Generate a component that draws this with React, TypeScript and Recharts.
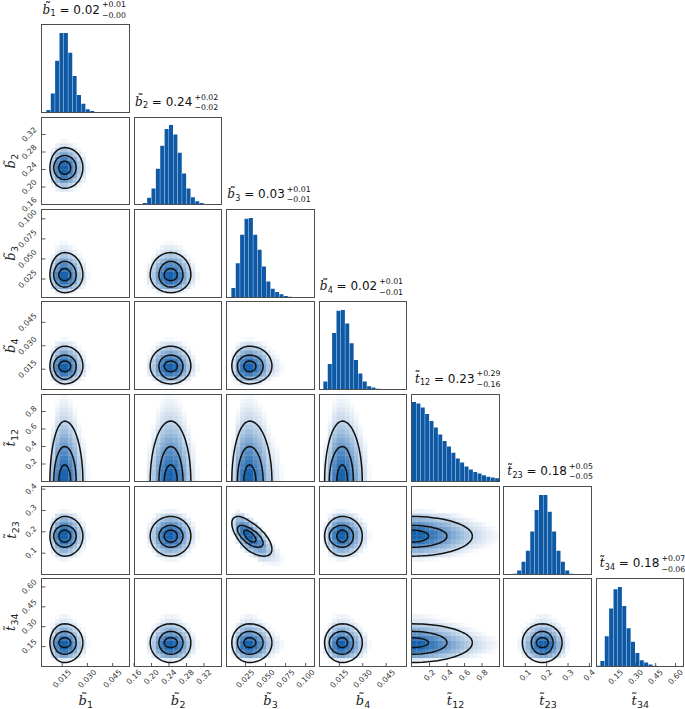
import React from 'react';
import { ScatterChart, Scatter, XAxis, YAxis, ComposedChart, Bar } from 'recharts';

// panel geometry (page pixels)
const W = 87.5;
const H = 87.5;
const M = 45;
const colX = [42, 134.4, 226.8, 319.2, 411.6, 504, 596.4];
const rowY = [25, 117.3, 209.6, 301.9, 394.2, 486.5, 578.8];

// parameters
const varSymbols = ['b', 'b', 'b', 'b', 't', 't', 't'];
const varSubs = ['1', '2', '3', '4', '12', '23', '34'];
const varDomains: [number, number][] = [
  [0.003, 0.055],
  [0.16, 0.36],
  [0.002, 0.111],
  [0.002, 0.058],
  [0, 1.0],
  [0, 0.41],
  [0, 0.66],
];
const varTicks = [
  [0.015, 0.03, 0.045],
  [0.16, 0.2, 0.24, 0.28, 0.32],
  [0.025, 0.05, 0.075, 0.1],
  [0.015, 0.03, 0.045],
  [0.2, 0.4, 0.6, 0.8],
  [0.1, 0.2, 0.3, 0.4],
  [0.15, 0.3, 0.45, 0.6],
];
const varTickLabels = [
  ['0.015', '0.030', '0.045'],
  ['0.16', '0.20', '0.24', '0.28', '0.32'],
  ['0.025', '0.050', '0.075', '0.100'],
  ['0.015', '0.030', '0.045'],
  ['0.2', '0.4', '0.6', '0.8'],
  ['0.1', '0.2', '0.3', '0.4'],
  ['0.15', '0.30', '0.45', '0.60'],
];

// marginal histograms, 20 bins over each range (peak = 100)
const histB1 = [0, 3, 24, 65, 100, 100, 75, 46, 22, 11, 4, 2, 0.5, 0, 0, 0, 0, 0, 0, 0];
const histB2 = [0, 0, 2, 8.5, 20, 45, 74, 95, 100, 88, 65, 39, 20, 9, 4, 2, 0, 0, 0, 0];
const histB3 = [0, 12, 43, 79, 99, 100, 79, 60, 39, 20, 11, 7, 4, 2, 1, 0, 0, 0, 0, 0];
const histB4 = [0, 10, 32, 71, 99, 100, 83, 58, 37, 20, 10, 4, 2.5, 1, 0.5, 0, 0, 0, 0, 0];
const histT12 = [100, 98, 93, 85, 76, 68, 59, 51, 44, 36, 29, 24, 19, 15, 12, 10, 8, 6, 5, 4];
const histT23 = [0, 0, 1, 5, 16, 30, 54, 81, 100, 100, 79, 54, 30, 16, 5, 1, 0, 0, 0, 0];
const histT34 = [1, 7, 38, 73, 97, 100, 76, 48, 31, 17, 8, 5, 2.5, 1, 0.5, 0, 0, 0, 0, 0];
const histograms = [histB1, histB2, histB3, histB4, histT12, histT23, histT34];

// titles
const medians = ['0.02', '0.24', '0.03', '0.02', '0.23', '0.18', '0.18'];
const errPlus = ['0.01', '0.02', '0.01', '0.01', '0.29', '0.05', '0.07'];
const errMinus = ['0.00', '0.02', '0.01', '0.01', '0.16', '0.05', '0.06'];

// contour centres and extents (inner, middle, outer) below / above the centre
const contourCenter = [0.0165, 0.244, 0.03, 0.017, 0, 0.18, 0.18];
const contourLow = [
  [0.0035, 0.0065, 0.0088],
  [0.015, 0.027, 0.047],
  [0.007, 0.015, 0.022],
  [0.0036, 0.0084, 0.0114],
  [0.19, 0.4, 0.69],
  [0.028, 0.052, 0.094],
  [0.037, 0.088, 0.15],
];
const contourHigh = [
  [0.0035, 0.0068, 0.0108],
  [0.015, 0.028, 0.046],
  [0.008, 0.017, 0.028],
  [0.0032, 0.007, 0.0127],
  [0.19, 0.4, 0.69],
  [0.028, 0.05, 0.092],
  [0.037, 0.085, 0.142],
];
const correlatedPairs = [{ x: 2, y: 5, rho: -0.65, slope: -0.74, ic: 4.5, jc: 8.3 }];

const HIST_FILL = '#0d59a6';
const DARK = [22, 96, 172];

function blend(v: number) {
  const t = Math.max(0, (Math.pow(v, 0.45) - 0.2) / 0.8);
  const c = DARK.map((d) => Math.round(255 + (d - 255) * t));
  return { t, fill: `rgb(${c[0]},${c[1]},${c[2]})` };
}

function binCenters(k: number) {
  const [a, b] = varDomains[k];
  const w = (b - a) / 20;
  return histograms[k].map((_, i) => a + (i + 0.5) * w);
}

function sample(h: number[], f: number) {
  if (f < 0 || f > h.length - 1) return 0;
  const i = Math.floor(f);
  const r = f - i;
  return h[i] * (1 - r) + (h[Math.min(i + 1, h.length - 1)] ?? 0) * r;
}

function heatCells(xi: number, yi: number) {
  const hx = histograms[xi];
  const hy = histograms[yi];
  const xc = binCenters(xi);
  const yc = binCenters(yi);
  const pair = correlatedPairs.find((p) => p.x === xi && p.y === yi);
  const cells: { x: number; y: number; fill: string }[] = [];
  for (let i = 0; i < hx.length; i++) {
    for (let j = 0; j < hy.length; j++) {
      let vy = hy[j];
      if (pair) {
        const jCond = pair.jc + pair.slope * (i - pair.ic);
        vy = sample(hy, pair.jc + (j - jCond) / Math.sqrt(1 - pair.rho * pair.rho));
      }
      const { t, fill } = blend((hx[i] * vy) / 10000);
      if (t <= 0.01) continue;
      cells.push({ x: xc[i], y: yc[j], fill });
    }
  }
  return cells;
}

const contourAngles = Array.from({ length: 73 }, (_, k) => (k / 72) * 2 * Math.PI);

function contourPoints(xi: number, yi: number, level: number) {
  const pair = correlatedPairs.find((p) => p.x === xi && p.y === yi);
  const rho = pair ? pair.rho : 0;
  return contourAngles.map((a) => {
    const c = Math.cos(a);
    const s = Math.sin(a);
    const x = contourCenter[xi] + (c >= 0 ? contourHigh[xi][level] : contourLow[xi][level]) * c;
    const u = rho * c + Math.sqrt(1 - rho * rho) * s;
    const y = contourCenter[yi] + (u >= 0 ? contourHigh[yi][level] : contourLow[yi][level]) * u;
    return { x, y };
  });
}

// tick labels
const TICK_FS = 7.8;
const textW = (s: string) => [...s].reduce((w, ch) => w + (ch === '.' ? 0.318 : 0.636), 0) * TICK_FS;
const tickHalf = (s: string) => (0.707 * (textW(s) + 0.73 * TICK_FS)) / 2;

function XTick(props: any) {
  const { x, payload, vals, names } = props;
  const s = names[vals.indexOf(payload.value)] ?? String(payload.value);
  const ty = M + H + 2.5 + tickHalf(s);
  return (
    <text x={x} y={ty} transform={`rotate(-45 ${x} ${ty})`} textAnchor="middle" dominantBaseline="central"
      fontSize={TICK_FS} fontFamily="DejaVu Sans" fill="#333">
      {s}
    </text>
  );
}

function YTick(props: any) {
  const { y, payload, vals, names } = props;
  const s = names[vals.indexOf(payload.value)] ?? String(payload.value);
  const tx = M - 4.5 - tickHalf(s);
  return (
    <text x={tx} y={y} transform={`rotate(-45 ${tx} ${y})`} textAnchor="middle" dominantBaseline="central"
      fontSize={TICK_FS} fontFamily="DejaVu Sans" fill="#333">
      {s}
    </text>
  );
}

const xAxisEl = (k: number, show: boolean, id: string | number = 0) => (
  <XAxis
    xAxisId={id}
    type="number"
    dataKey="x"
    domain={varDomains[k]}
    ticks={varTicks[k]}
    interval={0}
    allowDataOverflow
    height={1}
    mirror
    axisLine={false}
    tickSize={3.5}
    tickLine={{ stroke: '#444', strokeWidth: 0.9 }}
    tick={show ? <XTick vals={varTicks[k]} names={varTickLabels[k]} /> : false}
  />
);

const yAxisEl = (k: number, show: boolean) => (
  <YAxis
    type="number"
    dataKey="y"
    domain={varDomains[k]}
    ticks={varTicks[k]}
    interval={0}
    allowDataOverflow
    width={1}
    mirror
    axisLine={false}
    tickSize={3.5}
    tickLine={{ stroke: '#444', strokeWidth: 0.9 }}
    tick={show ? <YTick vals={varTicks[k]} names={varTickLabels[k]} /> : false}
  />
);

const CW = W / 20;
const CH = H / 20;
const HeatCell = (p: any) => (
  <rect x={p.cx - CW / 2} y={p.cy - CH / 2} width={CW + 0.3} height={CH + 0.3} fill={p.payload.fill} />
);
const Blank = () => <g />;

function Frame() {
  return (
    <div
      style={{
        position: 'absolute',
        left: M - 0.6,
        top: M - 0.6,
        width: W + 1.2,
        height: H + 1.2,
        boxSizing: 'border-box',
        border: '1.3px solid #4d4d4d',
        pointerEvents: 'none',
      }}
    />
  );
}

function PairPanel({ xi, yi }: { xi: number; yi: number }) {
  const cells = heatCells(xi, yi);
  const contours = [0, 1, 2].map((l) => contourPoints(xi, yi, l));
  return (
    <div style={{ position: 'absolute', left: colX[xi] - M, top: rowY[yi] - M, width: W + 2 * M, height: H + 2 * M }}>
      <ScatterChart width={W + 2 * M} height={H + 2 * M} margin={{ top: M, right: M, bottom: M, left: M }}>
        {xAxisEl(xi, yi === 6)}
        {yAxisEl(yi, xi === 0)}
        <Scatter data={cells} shape={HeatCell} isAnimationActive={false} />
        {contours.map((pts, l) => (
          <Scatter
            key={l}
            data={pts}
            line={{ stroke: '#111', strokeWidth: 1.5 }}
            stroke="#111"
            fill="none"
            shape={Blank}
            isAnimationActive={false}
          />
        ))}
      </ScatterChart>
      <Frame />
    </div>
  );
}

function HistPanel({ k }: { k: number }) {
  const data = histograms[k].map((v, i) => ({ i, v }));
  return (
    <div style={{ position: 'absolute', left: colX[k] - M, top: rowY[k] - M, width: W + 2 * M, height: H + 2 * M }}>
      <ComposedChart
        width={W + 2 * M}
        height={H + 2 * M}
        margin={{ top: M, right: M, bottom: M, left: M }}
        data={data}
        barCategoryGap={0}
        barGap={0}
      >
        <XAxis xAxisId="cat" dataKey="i" type="category" hide />
        {xAxisEl(k, k === 6, 'num')}
        <YAxis domain={[0, 110]} hide allowDataOverflow />
        <Bar xAxisId="cat" dataKey="v" fill={HIST_FILL} isAnimationActive={false} />
      </ComposedChart>
      <Frame />
    </div>
  );
}

// variable symbol with a tilde laid over it, then its subscript
function symbolSpans(k: number, fs: number, subFs: number, drop: number) {
  return [
    <tspan key="s" fontFamily="DejaVu Serif" fontStyle="italic">{varSymbols[k]}</tspan>,
    <tspan key="t" fontFamily="DejaVu Sans" dx={-0.44 * fs} dy={-0.2 * fs}>{'\u02DC'}</tspan>,
    <tspan key="u" fontSize={subFs} dx={-0.04 * fs} dy={0.2 * fs + drop}>{varSubs[k]}</tspan>,
  ];
}

function Title({ k }: { k: number }) {
  const left = colX[k];
  const top = rowY[k];
  const split = left + 58 + (varSubs[k].length - 1) * 5;
  const fs = 12;
  return (
    <g fontFamily="DejaVu Sans" fill="#111" style={{ whiteSpace: 'pre' }}>
      <text x={split} y={top - 11.5} textAnchor="end" fontSize={fs}>
        {symbolSpans(k, fs, 8, 2.5)}
        <tspan dy={-2.5}>{' = ' + medians[k]}</tspan>
      </text>
      <text x={split + 2} y={top - 17.8} fontSize={7.8}>{'+' + errPlus[k]}</text>
      <text x={split + 2} y={top - 7.2} fontSize={7.8}>{'\u2212' + errMinus[k]}</text>
    </g>
  );
}

function VarLabel({ k, x, y, rotate }: { k: number; x: number; y: number; rotate: boolean }) {
  return (
    <text
      x={x}
      y={y}
      textAnchor="middle"
      fontSize={13}
      fill="#222"
      fontFamily="DejaVu Sans"
      transform={rotate ? `rotate(-90 ${x} ${y})` : undefined}
    >
      {symbolSpans(k, 13, 9.5, 3)}
    </text>
  );
}

const pairList: [number, number][] = [];
for (let yi = 1; yi < 7; yi++) for (let xi = 0; xi < yi; xi++) pairList.push([xi, yi]);

export default function App() {
  return (
    <div style={{ position: 'absolute', left: 0, top: 0, width: 685, height: 709, background: '#fff', overflow: 'hidden' }}>
      {histograms.map((_, k) => (
        <HistPanel key={'h' + k} k={k} />
      ))}
      {pairList.map(([xi, yi]) => (
        <PairPanel key={`p${xi}-${yi}`} xi={xi} yi={yi} />
      ))}
      <svg width={685} height={709} style={{ position: 'absolute', left: 0, top: 0, pointerEvents: 'none' }}>
        {histograms.map((_, k) => (
          <Title key={'t' + k} k={k} />
        ))}
        {[1, 2, 3, 4, 5, 6].map((k) => (
          <VarLabel key={'y' + k} k={k} x={15.5} y={rowY[k] + H / 2} rotate />
        ))}
        {[0, 1, 2, 3, 4, 5, 6].map((k) => (
          <VarLabel key={'x' + k} k={k} x={colX[k] + W / 2} y={704.5} rotate={false} />
        ))}
      </svg>
    </div>
  );
}
